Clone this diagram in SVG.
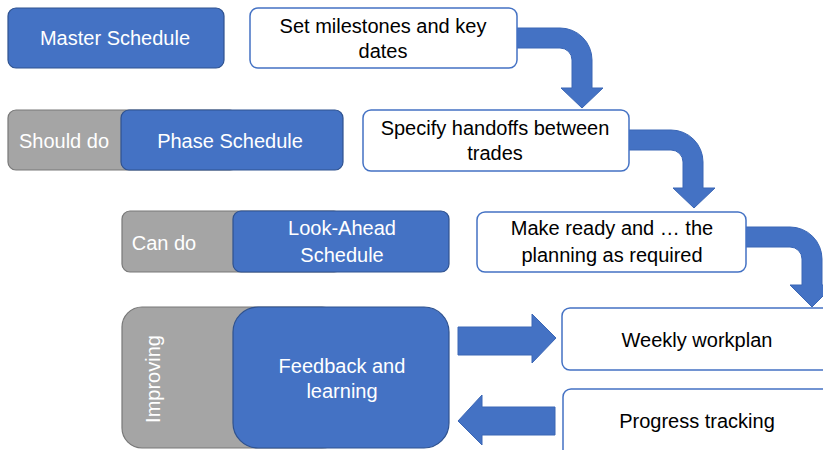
<svg xmlns="http://www.w3.org/2000/svg" width="823" height="450" viewBox="0 0 823 450">
<style>
.blue{fill:#4472C4;stroke:#2F528F;stroke-width:1.2}
.gray{fill:#A5A5A5;stroke:#787878;stroke-width:1.2}
.white{fill:#FFFFFF;stroke:#4472C4;stroke-width:1.5}
.arrow{fill:#4472C4;stroke:#3A66B5;stroke-width:1}
text{font-family:"Liberation Sans",Arial,sans-serif;font-size:20px;text-anchor:middle}
.lt{fill:#FFFFFF}
.dk{fill:#000000}
</style>
<rect width="823" height="450" fill="#FFFFFF"/>
<g id="connectors">
<path class="arrow" d="M517,28 L560,28 A32,32 0 0 1 592,60 L592,88 L603,88 L582,108 L561,88 L572,88 L572,60 A12,12 0 0 0 560,48 L517,48 Z"/>
<path class="arrow" d="M629,130 L671,130 A32,32 0 0 1 703,162 L703,188 L715,188 L694,208 L673,188 L683,188 L683,162 A12,12 0 0 0 671,150 L629,150 Z"/>
<path class="arrow" d="M746,227 L790,227 A32,32 0 0 1 822,259 L822,285 L834,285 L812,307 L790,285 L802,285 L802,259 A12,12 0 0 0 790,247 L746,247 Z"/>
<path class="arrow" d="M458,327 L532,327 L532,314 L556,338 L532,363 L532,355 L458,355 Z"/>
<path class="arrow" d="M555,407 L482,407 L482,395 L458,421 L482,445 L482,435 L555,435 Z"/>
</g>
<g id="master-schedule">
<rect class="blue" x="8" y="8" width="216" height="60" rx="8"/>
<text class="lt" x="115" y="45">Master Schedule</text>
</g>
<g id="set-milestones">
<rect class="white" x="250" y="8" width="267" height="60" rx="8"/>
<text class="dk" x="383" y="33">Set milestones and key</text>
<text class="dk" x="383" y="58">dates</text>
</g>
<g id="should-do">
<rect class="gray" x="8" y="110" width="230" height="60" rx="8"/>
<text class="lt" x="64" y="148">Should do</text>
</g>
<g id="phase-schedule">
<rect class="blue" x="121" y="110" width="222" height="60" rx="8"/>
<text class="lt" x="230" y="148">Phase Schedule</text>
</g>
<g id="specify-handoffs">
<rect class="white" x="363" y="110" width="266" height="61" rx="8"/>
<text class="dk" x="495" y="135">Specify handoffs between</text>
<text class="dk" x="495" y="160">trades</text>
</g>
<g id="can-do">
<rect class="gray" x="122" y="211" width="220" height="61" rx="8"/>
<text class="lt" x="164" y="250">Can do</text>
</g>
<g id="look-ahead">
<rect class="blue" x="233" y="211" width="216" height="61" rx="8"/>
<text class="lt" x="342" y="235">Look-Ahead</text>
<text class="lt" x="342" y="262">Schedule</text>
</g>
<g id="make-ready">
<rect class="white" x="477" y="212" width="269" height="60" rx="8"/>
<text class="dk" x="612" y="235">Make ready and … the</text>
<text class="dk" x="612" y="262">planning as required</text>
</g>
<g id="improving">
<rect class="gray" x="122" y="307" width="220" height="141" rx="20"/>
<text class="lt" transform="translate(160,379) rotate(-90)" x="0" y="0">Improving</text>
</g>
<g id="feedback">
<rect class="blue" x="233" y="307" width="216" height="141" rx="25"/>
<text class="lt" x="342" y="373">Feedback and</text>
<text class="lt" x="342" y="398">learning</text>
</g>
<g id="weekly-workplan">
<rect class="white" x="562" y="308" width="280" height="62" rx="8"/>
<text class="dk" x="697" y="347">Weekly workplan</text>
</g>
<g id="progress-tracking">
<rect class="white" x="563" y="389" width="280" height="70" rx="8"/>
<text class="dk" x="697" y="428">Progress tracking</text>
</g>
</svg>
